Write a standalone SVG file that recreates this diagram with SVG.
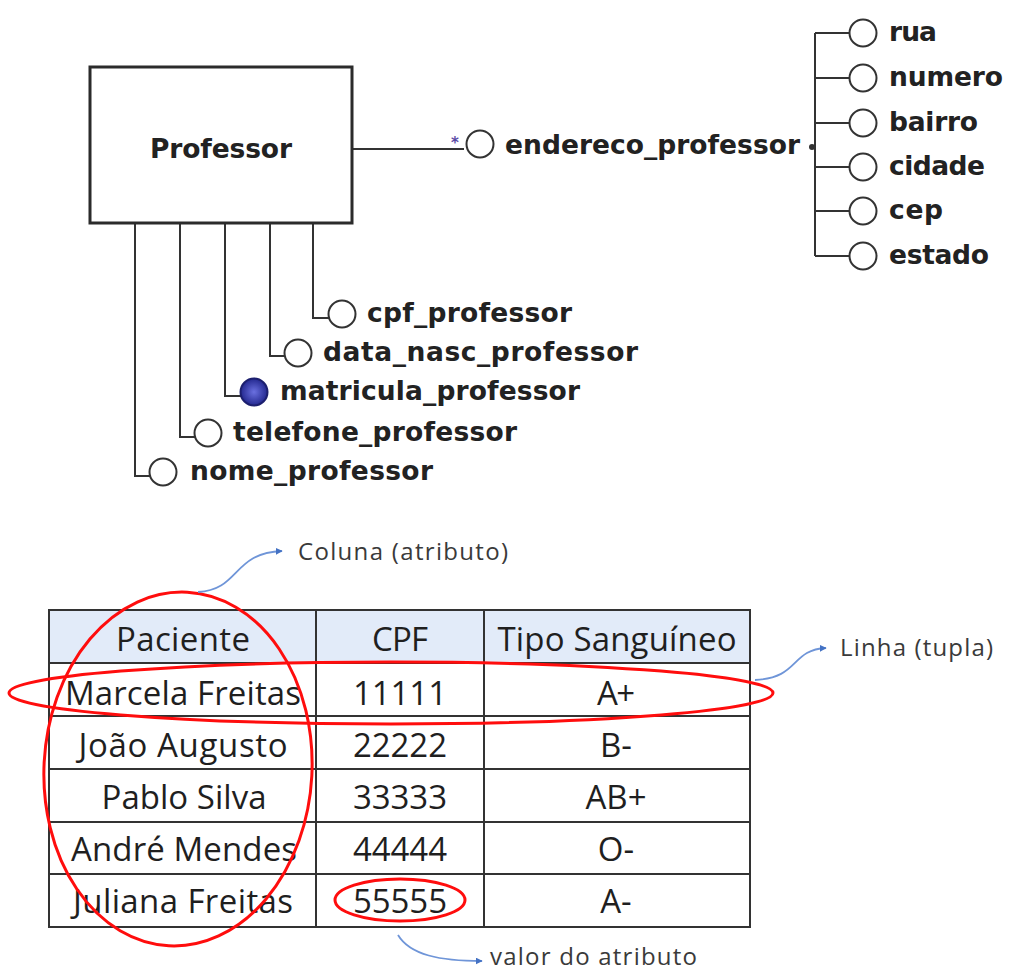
<svg xmlns="http://www.w3.org/2000/svg" width="1010" height="971" viewBox="0 0 1010 971">
  <defs>
    <radialGradient id="keyFill" cx="50%" cy="50%" r="50%">
      <stop offset="0" stop-color="#6a70e0"/>
      <stop offset="1" stop-color="#23288f"/>
    </radialGradient>
    <marker id="blueHead" viewBox="0 0 10 10" refX="9" refY="5" markerWidth="7" markerHeight="7" orient="auto" markerUnits="userSpaceOnUse">
      <path d="M0,0 L10,5 L0,10 z" fill="#4472c4"/>
    </marker>
  </defs>
  <style>
    .entity { fill: #ffffff; stroke: #2b2b2b; stroke-width: 3; }
    .link { fill: none; stroke: #333333; stroke-width: 2; }
    .attr { fill: #ffffff; stroke: #333333; stroke-width: 2; }
    .er { font-family: "DejaVu Sans", Verdana, sans-serif; font-weight: bold; font-size: 26.5px; fill: #222222; }
    .cell { font-family: "Open Sans", Lato, sans-serif; font-size: 33px; fill: #1f1f1f; text-anchor: middle; }
    .note { font-family: "Open Sans", Lato, sans-serif; font-size: 24px; fill: #3a3a3a; }
    .grid { stroke: #333333; stroke-width: 2; fill: none; }
    .mark { fill: none; stroke: #ff0d0d; stroke-width: 3; }
    .pointer { fill: none; stroke: #6f95d8; stroke-width: 1.8; marker-end: url(#blueHead); }
  </style>

  <rect width="1010" height="971" fill="#ffffff"/>

  <!-- ER model: connectors -->
  <g id="connectors">
    <path class="link" d="M352,149 H464"/>
    <path class="link" d="M313,223 V318 H329"/>
    <path class="link" d="M270,223 V356 H285"/>
    <path class="link" d="M225,223 V396 H241"/>
    <path class="link" d="M180,223 V437 H195"/>
    <path class="link" d="M135,223 V476 H150"/>
    <path class="link" d="M815,33 V256"/>
    <path class="link" d="M815,33 H850 M815,78 H850 M815,123 H850 M815,167 H850 M815,211 H850 M815,256 H850"/>
    <circle cx="812" cy="147" r="3" fill="#333333"/>
  </g>

  <!-- entity -->
  <g id="professor">
    <rect class="entity" x="90" y="67" width="262" height="156"/>
    <text class="er" x="150" y="158" textLength="142">Professor</text>
  </g>

  <!-- composite attribute -->
  <g id="endereco_professor">
    <text x="451" y="148" font-family="DejaVu Sans, sans-serif" font-size="15" font-weight="bold" fill="#5a4aa6">*</text>
    <circle class="attr" cx="480" cy="144" r="13.5"/>
    <text class="er" x="505" y="154" textLength="295">endereco_professor</text>
  </g>

  <g id="rua"><circle class="attr" cx="863" cy="33" r="13.5"/><text class="er" x="889" y="41" textLength="48">rua</text></g>
  <g id="numero"><circle class="attr" cx="863" cy="78" r="13.5"/><text class="er" x="889" y="86" textLength="114">numero</text></g>
  <g id="bairro"><circle class="attr" cx="863" cy="123" r="13.5"/><text class="er" x="889" y="131" textLength="89">bairro</text></g>
  <g id="cidade"><circle class="attr" cx="863" cy="167" r="13.5"/><text class="er" x="889" y="175" textLength="96">cidade</text></g>
  <g id="cep"><circle class="attr" cx="863" cy="211" r="13.5"/><text class="er" x="889" y="219" textLength="54">cep</text></g>
  <g id="estado"><circle class="attr" cx="863" cy="256" r="13.5"/><text class="er" x="889" y="264" textLength="100">estado</text></g>

  <!-- simple attributes -->
  <g id="cpf_professor"><circle class="attr" cx="342" cy="314" r="13.5"/><text class="er" x="367" y="322" textLength="205">cpf_professor</text></g>
  <g id="data_nasc_professor"><circle class="attr" cx="298" cy="353" r="13.5"/><text class="er" x="323" y="361" textLength="315">data_nasc_professor</text></g>
  <g id="matricula_professor"><circle cx="254" cy="392" r="13.5" fill="url(#keyFill)" stroke="#1c1f6e" stroke-width="2"/><text class="er" x="280" y="400" textLength="300">matricula_professor</text></g>
  <g id="telefone_professor"><circle class="attr" cx="208" cy="433" r="13.5"/><text class="er" x="233" y="441" textLength="284">telefone_professor</text></g>
  <g id="nome_professor"><circle class="attr" cx="163" cy="472" r="13.5"/><text class="er" x="190" y="480" textLength="243">nome_professor</text></g>

  <!-- table -->
  <g id="tabela">
    <rect x="49" y="610" width="701" height="53" fill="#e2ebf9"/>
    <rect class="grid" x="49" y="610" width="701" height="317" stroke-width="2.5"/>
    <path class="grid" d="M49,663 H750 M49,716 H750 M49,769 H750 M49,822 H750 M49,874 H750"/>
    <path class="grid" d="M316,610 V927 M484,610 V927"/>

    <text class="cell" x="183" y="651" textLength="134">Paciente</text>
    <text class="cell" x="400" y="651" textLength="56">CPF</text>
    <text class="cell" x="617" y="651" textLength="239">Tipo Sanguíneo</text>

    <text class="cell" x="183" y="705" textLength="236">Marcela Freitas</text>
    <text class="cell" x="400" y="705" textLength="94">11111</text>
    <text class="cell" x="616" y="705" textLength="38">A+</text>

    <text class="cell" x="183" y="757" textLength="209">João Augusto</text>
    <text class="cell" x="400" y="757" textLength="94">22222</text>
    <text class="cell" x="616" y="757">B-</text>

    <text class="cell" x="184" y="809" textLength="165">Pablo Silva</text>
    <text class="cell" x="400" y="809" textLength="94">33333</text>
    <text class="cell" x="616" y="809">AB+</text>

    <text class="cell" x="184" y="861" textLength="226">André Mendes</text>
    <text class="cell" x="400" y="861" textLength="94">44444</text>
    <text class="cell" x="616" y="861">O-</text>

    <text class="cell" x="183" y="913" textLength="220">Juliana Freitas</text>
    <text class="cell" x="400" y="913" textLength="94">55555</text>
    <text class="cell" x="616" y="913">A-</text>
  </g>

  <!-- highlights -->
  <g id="destaques">
    <ellipse class="mark" cx="178" cy="769" rx="134" ry="177" transform="rotate(3 178 769)"/>
    <ellipse class="mark" cx="391" cy="693" rx="382" ry="31"/>
    <ellipse class="mark" cx="400" cy="900" rx="65" ry="21"/>
  </g>

  <!-- annotations -->
  <g id="coluna">
    <path class="pointer" d="M198,592 C240,590 232,553 282,551"/>
    <text class="note" x="298" y="560" textLength="210">Coluna (atributo)</text>
  </g>
  <g id="linha">
    <path class="pointer" d="M755,680 C800,678 790,650 826,648"/>
    <text class="note" x="840" y="656" textLength="153">Linha (tupla)</text>
  </g>
  <g id="valor">
    <path class="pointer" d="M398,935 C410,955 440,961 482,961"/>
    <text class="note" x="490" y="965" textLength="207">valor do atributo</text>
  </g>
</svg>
